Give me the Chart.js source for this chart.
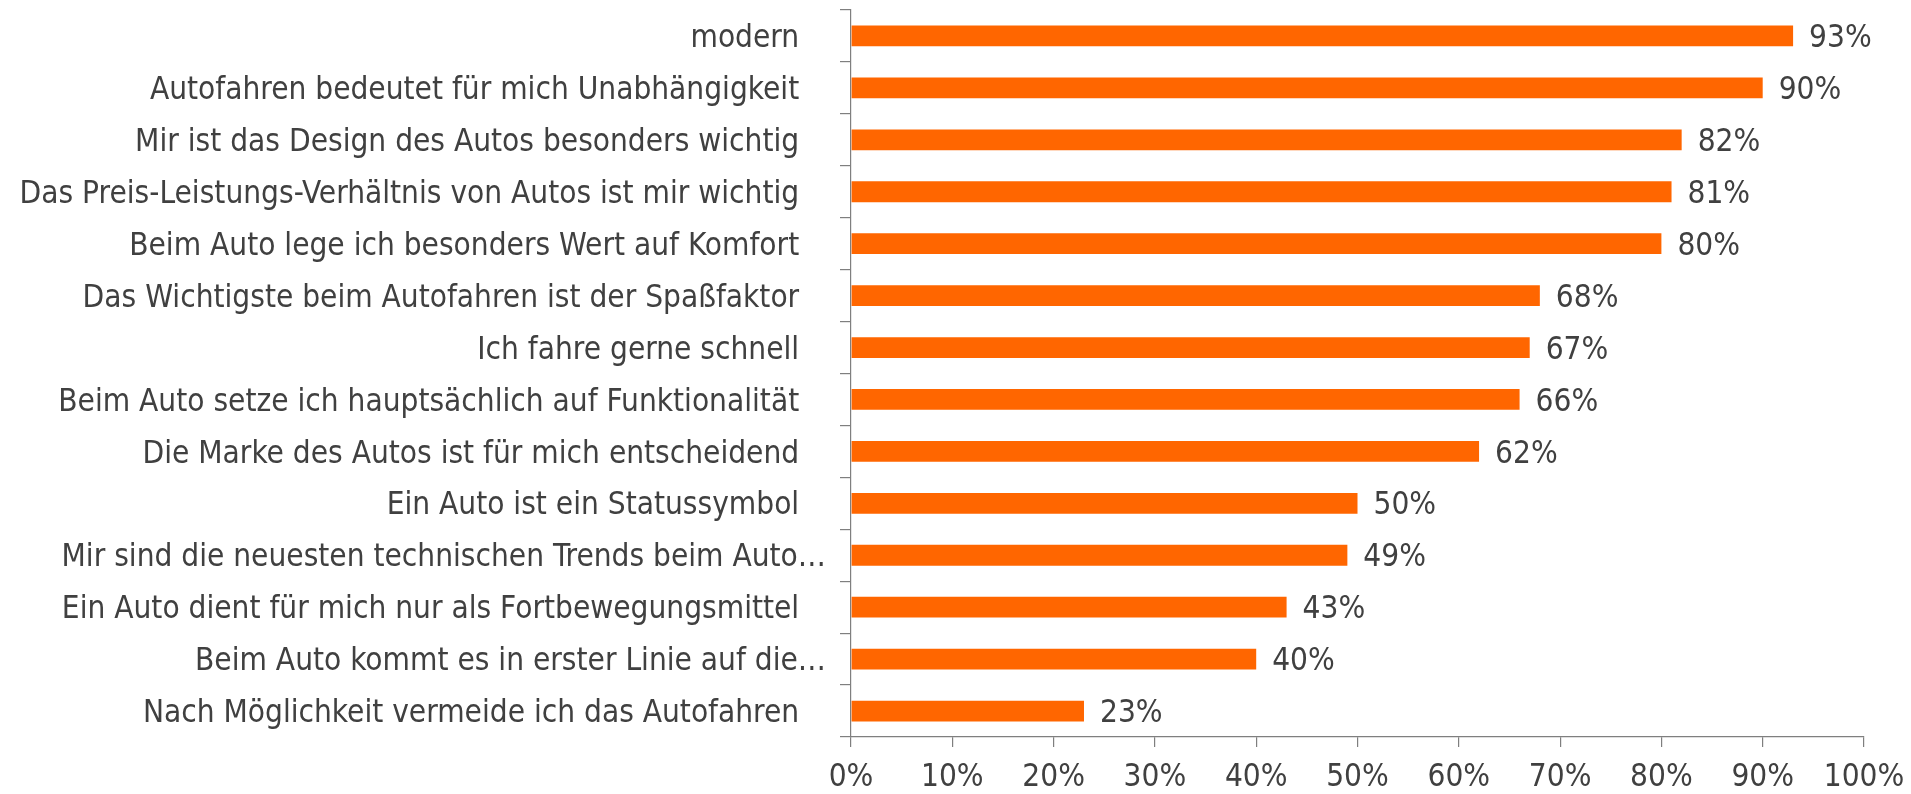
<!DOCTYPE html>
<html>
<head>
<meta charset="utf-8">
<script src="https://cdn.jsdelivr.net/npm/chart.js@4"></script>
<style>
html,body{margin:0;padding:0;background:#fff}
#wrap{width:1911px;height:794px}
</style>
</head>
<body>
<div id="wrap"><canvas id="chart" width="1911" height="794"></canvas></div>
<script>
const categories = [
  "modern",
  "Autofahren bedeutet für mich Unabhängigkeit",
  "Mir ist das Design des Autos besonders wichtig",
  "Das Preis-Leistungs-Verhältnis von Autos ist mir wichtig",
  "Beim Auto lege ich besonders Wert auf Komfort",
  "Das Wichtigste beim Autofahren ist der Spaßfaktor",
  "Ich fahre gerne schnell",
  "Beim Auto setze ich hauptsächlich auf Funktionalität",
  "Die Marke des Autos ist für mich entscheidend",
  "Ein Auto ist ein Statussymbol",
  "Mir sind die neuesten technischen Trends beim Auto…",
  "Ein Auto dient für mich nur als Fortbewegungsmittel",
  "Beim Auto kommt es in erster Linie auf die…",
  "Nach Möglichkeit vermeide ich das Autofahren"
]
const values = [93, 90, 82, 81, 80, 68, 67, 66, 62, 50, 49, 43, 40, 23]
const xTicks = [0, 10, 20, 30, 40, 50, 60, 70, 80, 90, 100]

const textColor = "#404040"
const axisColor = "#7f7f7f"
const fontFamily = "'DejaVu Sans Condensed', 'DejaVu Sans', sans-serif"

Chart.defaults.font.family = fontFamily
Chart.defaults.font.size = 31.3
Chart.defaults.color = textColor

// value labels right of each bar
const valueLabels = {
  id: "valueLabels",
  afterDatasetsDraw(chart){
    const ctx = chart.ctx
    const meta = chart.getDatasetMeta(0)
    ctx.save()
    ctx.font = "31.3px " + fontFamily
    ctx.fillStyle = textColor
    ctx.textAlign = "left"
    ctx.textBaseline = "middle"
    meta.data.forEach((bar, i)=>{
      ctx.fillText(values[i] + "%", bar.x + 16, bar.y + 3)
    })
    ctx.restore()
  }
}

new Chart(document.getElementById("chart"), {
  type: "bar",
  data: {
    labels: categories,
    datasets: [{
      data: values,
      backgroundColor: "#FF6600",
      borderWidth: 0,
      barPercentage: 0.4,
      categoryPercentage: 1
    }]
  },
  options: {
    indexAxis: "y",
    responsive: false,
    animation: false,
    layout: { padding: { top: 10, left: 0, right: 47, bottom: 0 } },
    plugins: { legend: { display: false }, tooltip: { enabled: false } },
    scales: {
      x: {
        min: 0,
        max: 100,
        afterBuildTicks(scale){ scale.ticks = xTicks.map(v=>({ value: v })) },
        afterFit(scale){
          scale.height = 57
          scale.paddingLeft = 0
          scale.paddingRight = 0
        },
        grid: {
          drawOnChartArea: false,
          drawTicks: true,
          tickLength: 10,
          color: axisColor,
          lineWidth: 1.2
        },
        border: { color: axisColor, width: 1.2 },
        ticks: {
          padding: 12,
          color: textColor,
          maxRotation: 0,
          callback: v => v + "%"
        }
      },
      y: {
        afterFit(scale){
          scale.width = 851
          scale.paddingTop = 0
          scale.paddingBottom = 0
        },
        grid: {
          drawOnChartArea: false,
          drawTicks: true,
          tickLength: 11,
          color: axisColor,
          lineWidth: 1.2
        },
        border: { color: axisColor, width: 1.2 },
        ticks: {
          padding: 14,
          labelOffset: 3,
          color: textColor,
          autoSkip: false,
          callback(v){
            const l = categories[v]
            return l.endsWith("…") ? l : l + "   "
          }
        }
      }
    }
  },
  plugins: [valueLabels]
})
</script>
</body>
</html>
